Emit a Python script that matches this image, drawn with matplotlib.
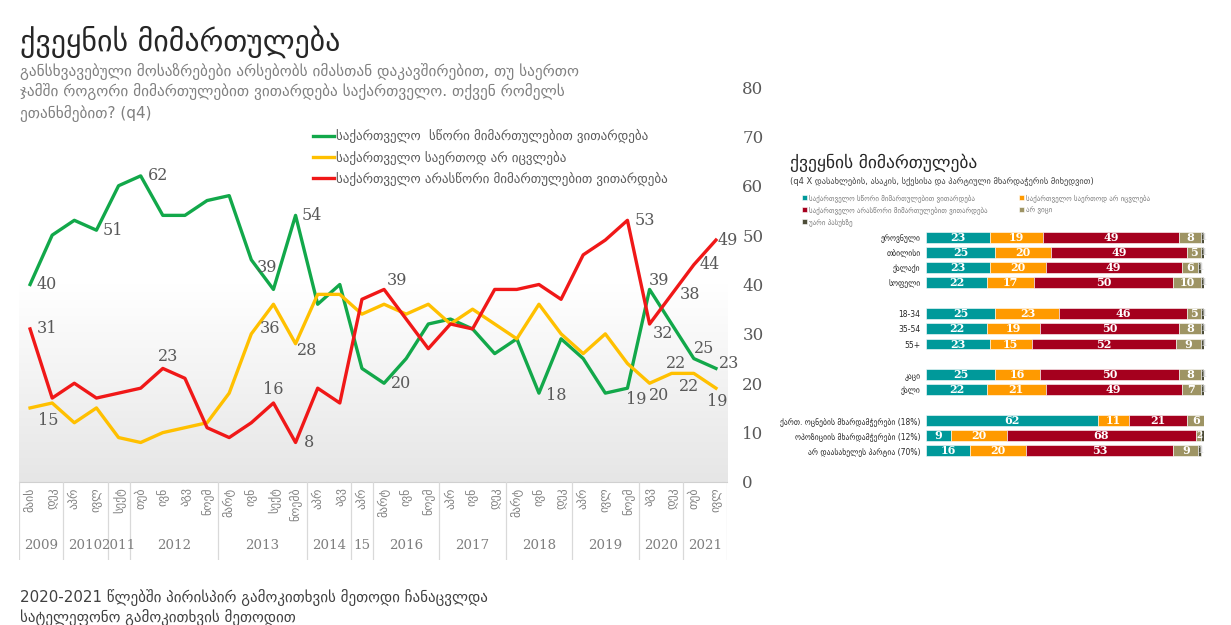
import numpy as np
import matplotlib
matplotlib.use("Agg")
import matplotlib.pyplot as plt
from matplotlib.colors import LinearSegmentedColormap

# ---------------- data ----------------
months = ['მაის', 'დეკ', 'აპრ', 'ივლ', 'სექტ', 'თებ', 'ივნ', 'აგვ', 'ნოემ',
          'მარტ', 'ივნ', 'სექტ', 'ნოემბ', 'აპრ', 'აგვ', 'აპრ', 'მარტ', 'ივნ',
          'ნოემ', 'აპრ', 'ივნ', 'დეკ', 'მარტ', 'ივნ', 'დეკ', 'აპრ', 'ივლ',
          'ნოემ', 'აგვ', 'დეკ', 'თებ', 'ივლ']
years = ['2009', '2010', '2011', '2012', '2013', '2014', '15', '2016', '2017',
         '2018', '2019', '2020', '2021']
year_counts = [2, 2, 1, 4, 4, 2, 1, 3, 3, 3, 3, 2, 2]

right_dir = [40, 50, 53, 51, 60, 62, 54, 54, 57, 58, 45, 39, 54, 36, 40, 23,
             20, 25, 32, 33, 31, 26, 29, 18, 29, 25, 18, 19, 39, 32, 25, 23]
no_change = [15, 16, 12, 15, 9, 8, 10, 11, 12, 18, 30, 36, 28, 38, 38, 34,
             36, 34, 36, 32, 35, 32, 29, 36, 30, 26, 30, 24, 20, 22, 22, 19]
wrong_dir = [31, 17, 20, 17, 18, 19, 23, 21, 11, 9, 12, 16, 8, 19, 16, 37,
             39, 33, 27, 32, 31, 39, 39, 40, 37, 46, 49, 53, 32, 38, 44, 49]

series_names = ['საქართველო  სწორი მიმართულებით ვითარდება',
                'საქართველო საერთოდ არ იცვლება',
                'საქართველო არასწორი მიმართულებით ვითარდება']

# labelled points: (series index, point index, dx px, dy px)  dy>0 = down
label_specs = [
    (0, 0, 17, 0), (0, 3, 16, 0), (0, 5, 17, 0), (0, 11, -6, -22), (0, 12, 16, 0),
    (0, 16, 17, 0), (0, 23, 17, 2), (0, 27, 9, 11), (0, 28, 9, -9), (0, 30, 10, -10),
    (0, 31, 13, -5),
    (1, 0, 18, 13), (1, 11, -3, 24), (1, 12, 12, 7), (1, 28, 9, 12), (1, 29, 4, -10),
    (1, 30, -5, 13), (1, 31, 1, 13),
    (2, 0, 17, 0), (2, 6, 5, -12), (2, 11, 0, -13), (2, 12, 13, 0), (2, 16, 13, -9),
    (2, 27, 17, 0), (2, 28, 13, 10), (2, 29, 18, 0), (2, 30, 16, 0), (2, 31, 12, 0),
]

# right chart
groups = ['ეროვნული', 'თბილისი', 'ქალაქი', 'სოფელი', '18-34', '35-54', '55+',
          'კაცი', 'ქალი', 'ქართ. ოცნების მხარდამჭერები (18%)',
          'ოპოზიციის მხარდამჭერები (12%)', 'არ დაასახელეს პარტია (70%)']
bar_right = [23, 25, 23, 22, 25, 22, 23, 25, 22, 62, 9, 16]
bar_nochange = [19, 20, 20, 17, 23, 19, 15, 16, 21, 11, 20, 20]
bar_wrong = [49, 49, 49, 50, 46, 50, 52, 50, 49, 21, 68, 53]
bar_dk = [8, 5, 6, 10, 5, 8, 9, 8, 7, 6, 2, 9]
bar_ref = [1, 1, 1, 1, 1, 1, 1, 1, 1, 0, 1, 1]
bar_names = ['საქართველო სწორი მიმართულებით ვითარდება',
             'საქართველო საერთოდ არ იცვლება',
             'საქართველო არასწორი მიმართულებით ვითარდება',
             'არ ვიცი', 'უარი პასუხზე']

# ---------------- figure ----------------
W, H = 1231, 625
fig = plt.figure(figsize=(W / 100, H / 100), dpi=100)
fig.patch.set_facecolor('white')


def rect(l, t, r, b):
    return [l / W, 1 - b / H, (r - l) / W, (b - t) / H]


SERIF = 'DejaVu Serif'
SANS = 'DejaVu Sans'
line_colors = ['#12A84A', '#FFC000', '#F01818']

ax = fig.add_axes(rect(19, 87, 727, 482))
n = len(right_dir)
x = np.arange(n)
cmap = LinearSegmentedColormap.from_list('bg', ['#ffffff', '#ffffff', '#e6e6e6'])
ax.imshow(np.linspace(0, 1, 256).reshape(-1, 1), cmap=cmap, aspect='auto',
          extent=[-0.5, n - 0.5, 0, 80], origin='upper', zorder=0)
all_series = [right_dir, no_change, wrong_dir]
for vals, c, name in zip(all_series, line_colors, series_names):
    ax.plot(x, vals, color=c, lw=2.4, label=name, zorder=3, solid_joinstyle='round')
for s, i, dx, dy in label_specs:
    v = all_series[s][i]
    ax.annotate(str(v), (x[i], v), xytext=(dx, -dy), textcoords='offset pixels',
                ha='center', va='center', fontsize=11.5, family=SERIF, color='#595959',
                zorder=4)
ax.set_xlim(-0.5, n - 0.5)
ax.set_ylim(0, 80)
ax.set_yticks(range(0, 81, 10))
ax.yaxis.tick_right()
ax.tick_params(axis='y', length=0, pad=11, labelsize=12, labelcolor='#595959')
for lab in ax.get_yticklabels():
    lab.set_family(SERIF)
ax.set_xticks([])
for sp in ['top', 'left', 'right']:
    ax.spines[sp].set_visible(False)
ax.spines['bottom'].set_color('#d0d0d0')
ax.legend(loc='upper left', bbox_to_anchor=(313 / W, 1 - 129 / H),
          bbox_transform=fig.transFigure, frameon=False, fontsize=9.4,
          labelcolor='#595959', handlelength=1.6, handletextpad=0.15,
          labelspacing=0.55, borderaxespad=0, borderpad=0)

# category axis below
axc = fig.add_axes(rect(19, 482, 727, 560))
axc.set_xlim(-0.5, n - 0.5)
axc.set_ylim(0, 1)
axc.axis('off')
bounds = np.concatenate([[0], np.cumsum(year_counts)]) - 0.5
for b in bounds:
    axc.plot([b, b], [0, 1], color='#d9d9d9', lw=0.9)
for i, m in enumerate(months):
    axc.text(i, 0.93, m, rotation=90, ha='center', va='top', fontsize=8.5,
             color='#7f7f7f', family=SANS)
for y, a, b in zip(years, bounds[:-1], bounds[1:]):
    axc.text((a + b) / 2, 0.19, y, ha='center', va='center', fontsize=9.6,
             color='#7f7f7f', family=SERIF)

# titles
fig.text(20 / W, 1 - 42 / H, 'ქვეყნის მიმართულება', fontsize=21.5, color='#262626',
         va='center', family=SANS)
sub = ['განსხვავებული მოსაზრებები არსებობს იმასთან დაკავშირებით, თუ საერთო',
       'ჯამში როგორი მიმართულებით ვითარდება საქართველო. თქვენ რომელს',
       'ეთანხმებით? (q4)']
for k, line in enumerate(sub):
    fig.text(20 / W, 1 - (71 + 21 * k) / H, line, fontsize=11, color='#808080',
             va='center', family=SANS)
foot = ['2020-2021 წლებში პირისპირ გამოკითხვის მეთოდი ჩანაცვლდა',
        'სატელეფონო გამოკითხვის მეთოდით']
for k, line in enumerate(foot):
    fig.text(20 / W, 1 - (597 + 20 * k) / H, line, fontsize=10.8, color='#404040',
             va='center', family=SANS)

# ---------------- right chart ----------------
bar_colors = ['#00999A', '#FF9A00', '#A5001E', '#9E9464', '#4D4D38']
pos = [0, 1, 2, 3, 5, 6, 7, 9, 10, 12, 13, 14]
ax2 = fig.add_axes(rect(926, 229.5, 1204, 458.5))
left = np.zeros(len(groups))
containers = []
all_bars = [bar_right, bar_nochange, bar_wrong, bar_dk, bar_ref]
for k, (vals, c, name) in enumerate(zip(all_bars, bar_colors, bar_names)):
    vals = np.array(vals, dtype=float)
    bc = ax2.barh(pos, vals, left=left, height=0.72, color=c, edgecolor='white',
                  linewidth=0.4, label=name)
    containers.append(bc)
    for j, (p, l, v) in enumerate(zip(pos, left, vals)):
        if v <= 0:
            continue
        if k == 4 and bar_dk[j] < 3:
            continue
        small = v < 3
        ax2.text(l + v / 2 + (0.4 if small else 0), p, f'{int(v)}', ha='center',
                 va='center', fontsize=8 if not small else 6.5,
                 color='white' if v >= 2 else '#d8d8d8',
                 family=SERIF, fontweight='bold')
    left = left + vals
ax2.set_xlim(0, 100)
ax2.set_ylim(14.5, -0.5)
ax2.set_yticks(pos)
ax2.set_yticklabels(groups)
ax2.tick_params(axis='y', length=0, pad=4, labelsize=5.5, labelcolor='#262626')
ax2.set_xticks([])
for sp in ax2.spines.values():
    sp.set_visible(False)

fig.text(790 / W, 1 - 163 / H, 'ქვეყნის მიმართულება', fontsize=12.6, color='#262626',
         va='center', family=SANS)
fig.text(790 / W, 1 - 182 / H,
         '(q4 X დასახლების, ასაკის, სქესისა და პარტიული მხარდაჭერის მიხედვით)',
         fontsize=6, color='#404040', va='center', family=SANS)
leg1 = ax2.legend(handles=[containers[0], containers[2], containers[4]],
                  loc='upper left', bbox_to_anchor=(802 / W, 1 - 194 / H),
                  bbox_transform=fig.transFigure, frameon=False, fontsize=5.0,
                  labelcolor='#7f7f7f', handlelength=0.7, handleheight=0.7,
                  handletextpad=0.3, labelspacing=0.6, borderaxespad=0, borderpad=0)
ax2.add_artist(leg1)
ax2.legend(handles=[containers[1], containers[3]],
           loc='upper left', bbox_to_anchor=(1019 / W, 1 - 194 / H),
           bbox_transform=fig.transFigure, frameon=False, fontsize=5.0,
           labelcolor='#7f7f7f', handlelength=0.7, handleheight=0.7,
           handletextpad=0.3, labelspacing=0.6, borderaxespad=0, borderpad=0)

fig.savefig('out.png', dpi=100)
